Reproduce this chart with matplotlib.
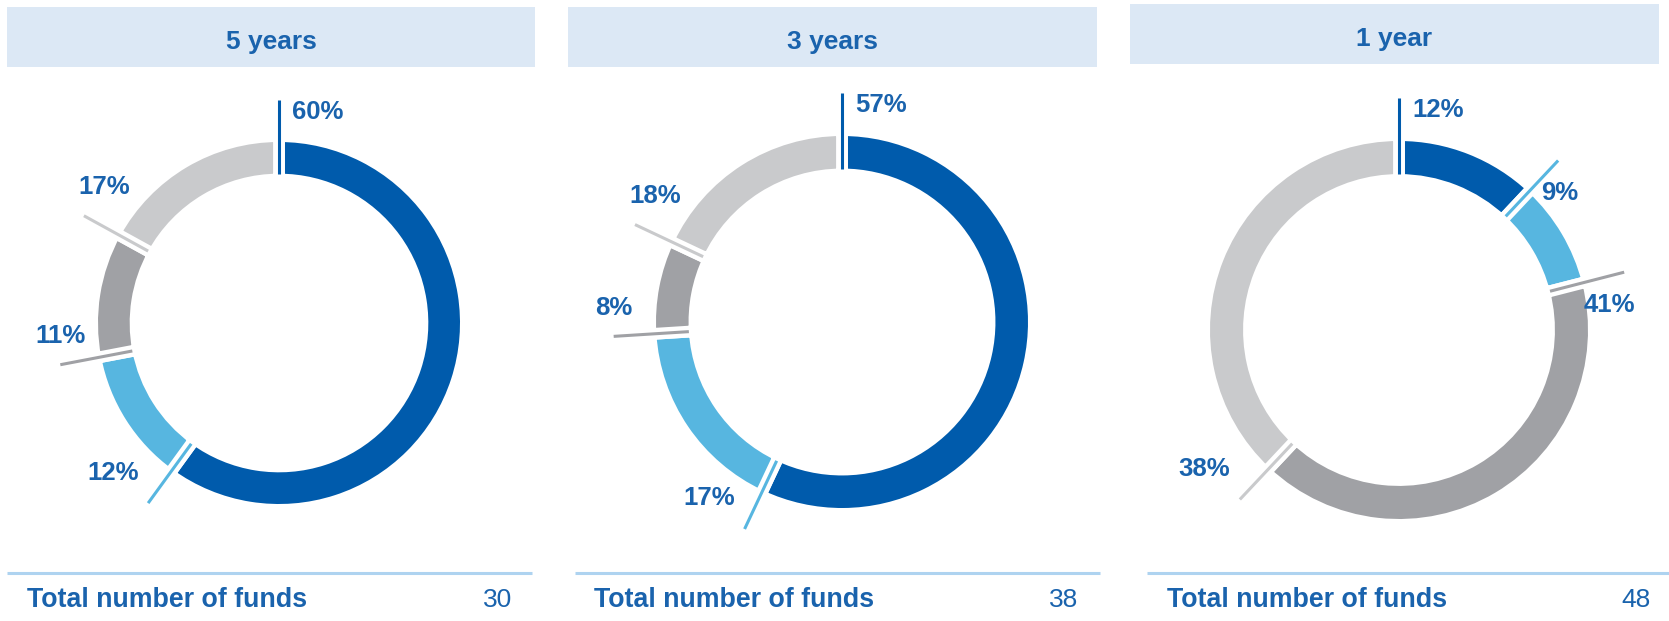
import matplotlib.pyplot as plt
from matplotlib.patches import Rectangle, Circle
import numpy as np

plt.rcParams['font.family'] = ['Liberation Sans', 'DejaVu Sans']

# Datos (sentido horario desde las 12)
periodos = ['5 years', '3 years', '1 year']
cuota_5y = [60, 12, 11, 17]
cuota_3y = [57, 17, 8, 18]
cuota_1y = [12, 9, 41, 38]
total_fondos = [30, 38, 48]

colores = ['#005bac', '#57b6e0', '#a0a1a5', '#c9cacc']
azul_txt = '#1a63ad'
fondo_cab = '#dce8f5'
linea_pie = '#aed3f0'

W, H = 1669, 621

# layout en pixeles
cabeceras = [(7, 535, 7, 67), (568, 1097, 7, 67), (1130, 1659, 4, 64)]
lineas = [(7, 532), (575, 1100), (1147, 1669)]
x_total = [27, 594, 1167]
x_num = [512, 1078, 1651]
donuts = [(279, 323, 181), (842, 322, 186), (1399, 330, 189)]  # cx, cy, radio

anillo = 0.175   # grosor del anillo (en radios)
hueco = 8.5      # hueco blanco entre segmentos, en pt
lim = 1.45

fig = plt.figure(figsize=(W / 100, H / 100), dpi=100)
bg = fig.add_axes([0, 0, 1, 1])
bg.set_xlim(0, W)
bg.set_ylim(H, 0)
bg.axis('off')

for i, periodo in enumerate(periodos):
    x0, x1, y0, y1 = cabeceras[i]
    bg.add_patch(Rectangle((x0, y0), x1 - x0, y1 - y0, color=fondo_cab, lw=0))
    bg.text((x0 + x1) / 2, y1 - 18, periodo, ha='center', va='baseline',
            fontsize=19, fontweight='bold', color=azul_txt)
    bg.plot(lineas[i], [573, 573], color=linea_pie, lw=2.2, solid_capstyle='butt')
    bg.text(x_total[i], 607, 'Total number of funds', ha='left', va='baseline',
            fontsize=19.3, fontweight='bold', color=azul_txt)
    bg.text(x_num[i], 607, str(total_fondos[i]), ha='right', va='baseline',
            fontsize=19, color=azul_txt)


def posicion_etiqueta(theta):
    # alineacion de la etiqueta segun el angulo (grados, horario desde arriba)
    if theta < 1:
        return 'left', 'top', 0.07, 0.0
    if theta < 60:
        return 'center', 'top', 0.01, -0.11
    if theta < 180:
        return 'center', 'top', -0.08, -0.11
    if theta < 240:
        return 'right', 'bottom', -0.05, 0.10
    if theta < 280:
        return 'center', 'bottom', 0.0, 0.09
    return 'left', 'bottom', -0.03, 0.09


for cuotas, (cx, cy, R) in zip([cuota_5y, cuota_3y, cuota_1y], donuts):
    half = lim * R
    ax = fig.add_axes([(cx - half) / W, (H - cy - half) / H, 2 * half / W, 2 * half / H])
    g = hueco * 1.389 / 2 / R
    ax.pie(cuotas, colors=colores, startangle=90, counterclock=False, radius=1 + g,
           wedgeprops=dict(width=anillo + 2 * g, edgecolor='white', linewidth=hueco))
    ax.add_patch(Circle((0, 0), 1.05, fill=False, ec='#f0f0f0', lw=1, zorder=0))

    inicio = np.concatenate([[0], np.cumsum(cuotas)[:-1]]) / np.sum(cuotas) * 360
    for val, th, col in zip(cuotas, inicio, colores):
        s, c = np.sin(np.radians(th)), np.cos(np.radians(th))
        r0, r1 = 1 - anillo, 1.23
        ax.plot([r0 * s, r1 * s], [r0 * c, r1 * c], color=col, lw=2.2, zorder=5,
                solid_capstyle='butt')
        ha, va, dx, dy = posicion_etiqueta(th)
        ax.text(r1 * s + dx, r1 * c + dy, f'{val}%', ha=ha, va=va,
                fontsize=18.5, fontweight='bold', color=azul_txt)

    ax.set_xlim(-lim, lim)
    ax.set_ylim(-lim, lim)
    ax.set_aspect('equal')
    ax.axis('off')

fig.savefig('out.png', dpi=100)
